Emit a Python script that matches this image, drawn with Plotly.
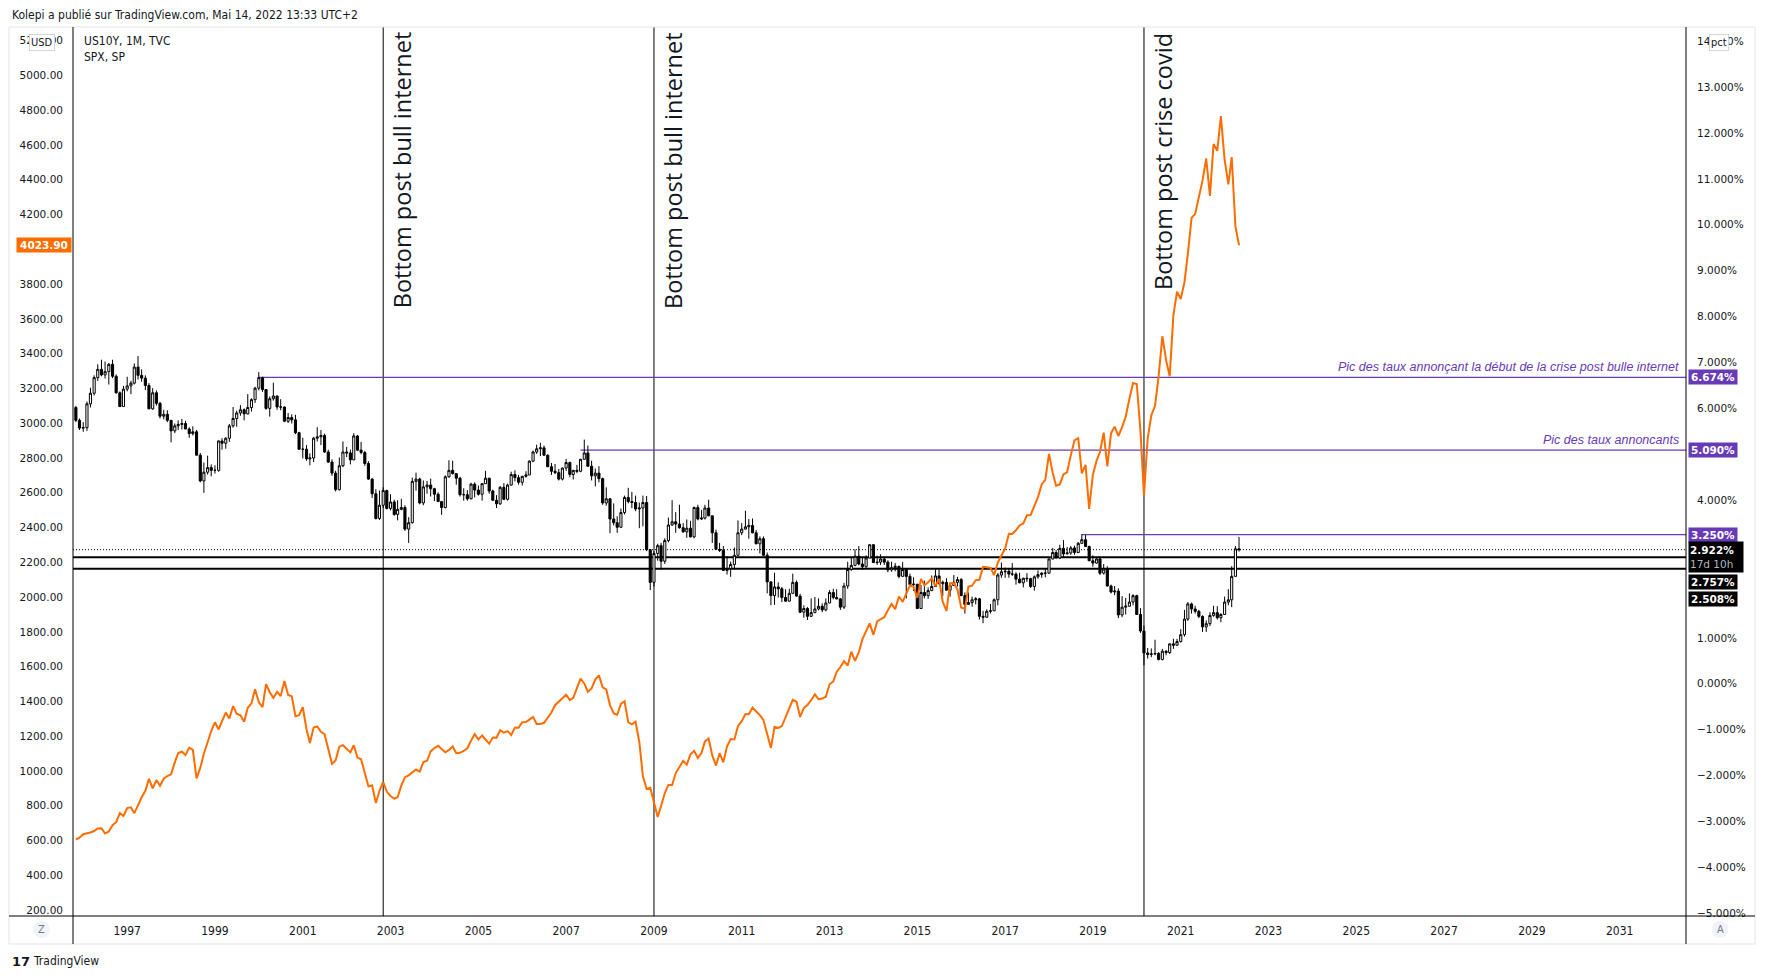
import plotly.graph_objects as go
import pandas as pd

# ---------------- DATA ----------------
months = pd.date_range("1995-11-01", "2022-05-01", freq="MS")

us10y_first_open = 6.02
us10y_close = [
    5.74, 5.57,
    5.58, 6.10, 6.33, 6.67, 6.85, 6.73, 6.80, 6.96, 6.70, 6.34, 6.04, 6.42,
    6.49, 6.55, 6.90, 6.72, 6.66, 6.50, 5.99, 6.34, 6.11, 5.83, 5.87, 5.74,
    5.51, 5.62, 5.65, 5.67, 5.55, 5.45, 5.49, 4.98, 4.42, 4.61, 4.71, 4.65,
    4.65, 5.29, 5.24, 5.35, 5.62, 5.78, 5.90, 5.97, 5.88, 6.02, 6.19, 6.44,
    6.67, 6.41, 6.00, 6.21, 6.27, 6.03, 6.03, 5.72, 5.80, 5.75, 5.47, 5.11,
    5.11, 4.90, 4.92, 5.35, 5.38, 5.41, 5.05, 4.83, 4.59, 4.23, 4.75, 5.05,
    5.03, 4.88, 5.40, 5.09, 5.04, 4.80, 4.46, 4.14, 3.60, 3.89, 4.21, 3.82,
    3.96, 3.69, 3.80, 3.84, 3.37, 3.51, 4.41, 4.46, 3.94, 4.29, 4.33, 4.25,
    4.13, 3.97, 3.84, 4.51, 4.65, 4.58, 4.48, 4.12, 4.12, 4.03, 4.35, 4.22,
    4.13, 4.36, 4.48, 4.20, 4.00, 3.92, 4.28, 4.02, 4.33, 4.56, 4.49, 4.39,
    4.52, 4.55, 4.85, 5.05, 5.12, 5.14, 4.98, 4.73, 4.63, 4.60, 4.46, 4.70,
    4.82, 4.56, 4.65, 4.63, 4.89, 5.03, 4.74, 4.53, 4.59, 4.47, 3.94, 4.03,
    3.59, 3.51, 3.41, 3.73, 4.06, 3.97, 3.95, 3.81, 3.83, 3.95, 2.92, 2.21,
    2.84, 3.01, 2.67, 3.12, 3.46, 3.53, 3.48, 3.40, 3.31, 3.39, 3.20, 3.84,
    3.59, 3.61, 3.83, 3.66, 3.29, 2.93, 2.91, 2.47, 2.51, 2.60, 2.80, 3.29,
    3.37, 3.42, 3.45, 3.29, 3.05, 3.16, 2.80, 2.22, 1.92, 2.11, 2.07, 1.88,
    1.80, 1.97, 2.21, 1.91, 1.56, 1.64, 1.47, 1.55, 1.63, 1.69, 1.61, 1.76,
    1.99, 1.88, 1.85, 1.67, 2.13, 2.49, 2.58, 2.78, 2.61, 2.55, 2.74, 3.03,
    2.64, 2.65, 2.72, 2.65, 2.48, 2.53, 2.56, 2.34, 2.49, 2.34, 2.16, 2.17,
    1.64, 1.99, 1.92, 2.03, 2.12, 2.35, 2.18, 2.21, 2.04, 2.14, 2.21, 2.27,
    1.92, 1.73, 1.77, 1.83, 1.85, 1.47, 1.45, 1.58, 1.59, 1.83, 2.37, 2.44,
    2.45, 2.39, 2.39, 2.28, 2.20, 2.30, 2.29, 2.12, 2.33, 2.38, 2.41, 2.41,
    2.72, 2.86, 2.74, 2.95, 2.83, 2.85, 2.96, 2.86, 3.06, 3.14, 2.99, 2.68,
    2.63, 2.72, 2.41, 2.50, 2.13, 2.00, 2.02, 1.50, 1.67, 1.69, 1.78, 1.92,
    1.51, 1.15, 0.67, 0.64, 0.65, 0.66, 0.53, 0.71, 0.68, 0.87, 0.84, 0.92,
    1.07, 1.41, 1.74, 1.63, 1.58, 1.47, 1.24, 1.31, 1.49, 1.55, 1.44, 1.51,
    1.78, 1.83, 2.34, 2.94, 2.922,
]
us10y_high = [
    6.05, 5.78,
    5.70, 6.15, 6.45, 6.72, 6.96, 7.06, 7.02, 6.99, 7.06, 6.74, 6.37, 6.49,
    6.69, 6.60, 6.98, 7.14, 6.85, 6.72, 6.55, 6.44, 6.39, 6.14, 5.97, 5.96,
    5.73, 5.67, 5.74, 5.77, 5.73, 5.59, 5.61, 5.53, 5.03, 4.82, 4.97, 4.78,
    4.76, 5.30, 5.35, 5.37, 5.66, 6.03, 5.95, 6.07, 6.00, 6.31, 6.22, 6.47,
    6.79, 6.69, 6.41, 6.26, 6.56, 6.28, 6.20, 6.04, 5.90, 5.87, 5.86, 5.49,
    5.36, 5.20, 5.02, 5.38, 5.59, 5.53, 5.45, 5.10, 4.89, 4.64, 4.93, 5.28,
    5.16, 5.10, 5.46, 5.42, 5.27, 5.07, 4.85, 4.48, 4.24, 4.21, 4.28, 4.23,
    4.13, 4.01, 4.00, 4.03, 3.89, 3.63, 4.49, 4.60, 4.49, 4.43, 4.42, 4.47,
    4.27, 4.17, 3.98, 4.54, 4.87, 4.86, 4.55, 4.51, 4.26, 4.22, 4.38, 4.39,
    4.32, 4.37, 4.64, 4.48, 4.23, 4.11, 4.31, 4.37, 4.36, 4.62, 4.65, 4.55,
    4.53, 4.63, 4.87, 5.08, 5.21, 5.25, 5.19, 5.00, 4.81, 4.79, 4.68, 4.71,
    4.90, 4.84, 4.66, 4.77, 4.90, 5.32, 5.19, 4.86, 4.69, 4.74, 4.49, 4.28,
    4.04, 3.93, 3.65, 3.82, 4.10, 4.27, 4.18, 4.10, 3.95, 4.10, 4.09, 2.93,
    2.89, 3.05, 3.07, 3.17, 3.62, 4.00, 3.74, 3.90, 3.50, 3.58, 3.55, 3.86,
    3.90, 3.79, 3.90, 4.01, 3.66, 3.36, 3.07, 3.00, 2.78, 2.66, 2.97, 3.56,
    3.50, 3.77, 3.59, 3.60, 3.35, 3.21, 3.21, 2.86, 2.24, 2.42, 2.21, 2.11,
    2.06, 2.07, 2.40, 2.25, 1.96, 1.71, 1.67, 1.86, 1.89, 1.86, 1.75, 1.86,
    2.04, 2.07, 2.06, 1.87, 2.20, 2.66, 2.75, 2.93, 3.00, 2.75, 2.80, 3.03,
    3.04, 2.79, 2.82, 2.78, 2.69, 2.66, 2.63, 2.56, 2.65, 2.50, 2.40, 2.32,
    2.17, 2.15, 2.25, 2.10, 2.36, 2.50, 2.48, 2.25, 2.30, 2.18, 2.37, 2.33,
    2.30, 1.99, 1.99, 1.90, 1.89, 1.87, 1.59, 1.62, 1.74, 1.86, 2.41, 2.64,
    2.53, 2.52, 2.63, 2.43, 2.42, 2.31, 2.41, 2.31, 2.36, 2.47, 2.43, 2.50,
    2.73, 2.96, 2.91, 3.03, 3.13, 2.98, 3.00, 3.01, 3.09, 3.26, 3.24, 3.01,
    2.80, 2.75, 2.76, 2.61, 2.56, 2.16, 2.13, 2.08, 1.91, 1.87, 1.97, 1.95,
    1.94, 1.65, 1.27, 0.78, 0.77, 0.96, 0.69, 0.76, 0.73, 0.88, 0.98, 0.98,
    1.19, 1.61, 1.78, 1.77, 1.70, 1.61, 1.49, 1.38, 1.56, 1.70, 1.69, 1.54,
    1.90, 2.06, 2.56, 3.00, 3.20,
]
us10y_low = [
    5.70, 5.53,
    5.49, 5.51, 6.02, 6.28, 6.60, 6.70, 6.65, 6.52, 6.66, 6.32, 6.03, 6.03,
    6.37, 6.31, 6.52, 6.63, 6.58, 6.40, 5.99, 5.97, 6.06, 5.78, 5.76, 5.70,
    5.26, 5.46, 5.53, 5.54, 5.55, 5.36, 5.41, 4.98, 4.39, 4.16, 4.56, 4.52,
    4.58, 4.62, 5.10, 5.12, 5.27, 5.58, 5.60, 5.84, 5.74, 5.87, 5.93, 6.12,
    6.39, 6.36, 5.97, 5.82, 6.17, 5.97, 5.96, 5.70, 5.68, 5.67, 5.44, 5.10,
    4.91, 4.86, 4.76, 4.83, 5.28, 5.20, 5.03, 4.81, 4.53, 4.19, 4.21, 4.72,
    4.94, 4.78, 4.87, 5.07, 5.00, 4.75, 4.44, 4.05, 3.58, 3.57, 3.83, 3.80,
    3.78, 3.66, 3.56, 3.78, 3.33, 3.07, 3.49, 4.21, 3.91, 3.89, 4.14, 4.08,
    3.98, 3.96, 3.68, 3.82, 4.49, 4.56, 4.34, 4.08, 3.99, 3.99, 4.02, 4.06,
    4.10, 3.99, 4.36, 4.14, 3.98, 3.83, 3.90, 4.00, 3.99, 4.32, 4.41, 4.34,
    4.32, 4.49, 4.55, 4.83, 5.01, 4.96, 4.97, 4.72, 4.55, 4.57, 4.43, 4.43,
    4.64, 4.50, 4.45, 4.59, 4.61, 4.89, 4.73, 4.43, 4.30, 4.39, 3.90, 3.88,
    3.28, 3.45, 3.29, 3.40, 3.69, 3.93, 3.83, 3.76, 3.39, 3.43, 2.89, 2.04,
    2.12, 2.68, 2.48, 2.61, 3.08, 3.44, 3.29, 3.38, 3.29, 3.18, 3.19, 3.17,
    3.56, 3.57, 3.58, 3.65, 3.07, 2.93, 2.87, 2.46, 2.38, 2.33, 2.49, 2.79,
    3.24, 3.37, 3.16, 3.28, 3.04, 2.84, 2.78, 1.97, 1.71, 1.72, 1.88, 1.78,
    1.79, 1.79, 1.97, 1.90, 1.54, 1.44, 1.39, 1.46, 1.54, 1.60, 1.56, 1.58,
    1.76, 1.84, 1.84, 1.61, 1.63, 2.07, 2.46, 2.56, 2.58, 2.48, 2.53, 2.74,
    2.64, 2.59, 2.59, 2.59, 2.43, 2.44, 2.45, 2.30, 2.34, 1.86, 2.16, 2.02,
    1.64, 1.64, 1.86, 1.85, 2.02, 2.11, 2.18, 1.91, 2.03, 1.90, 2.13, 2.12,
    1.91, 1.53, 1.73, 1.68, 1.73, 1.40, 1.32, 1.44, 1.53, 1.59, 1.71, 2.31,
    2.31, 2.31, 2.35, 2.16, 2.19, 2.10, 2.22, 2.09, 2.03, 2.29, 2.31, 2.32,
    2.40, 2.71, 2.73, 2.72, 2.76, 2.82, 2.81, 2.81, 2.85, 3.05, 2.99, 2.68,
    2.55, 2.62, 2.37, 2.38, 2.12, 1.97, 1.93, 1.43, 1.45, 1.51, 1.68, 1.71,
    1.51, 1.11, 0.40, 0.55, 0.58, 0.62, 0.51, 0.51, 0.62, 0.65, 0.76, 0.83,
    0.90, 1.03, 1.37, 1.53, 1.53, 1.43, 1.13, 1.13, 1.26, 1.46, 1.40, 1.34,
    1.50, 1.71, 1.67, 2.34, 2.88,
]
# monthly candle opens = previous month's close
us10y_open = [us10y_first_open] + us10y_close[:-1]

spx_close = [
    605.37, 615.93,
    636.02, 640.43, 645.50, 654.17, 669.12, 670.63, 639.95, 651.99, 687.33, 705.27, 757.02, 740.74,
    786.16, 790.82, 757.12, 801.34, 848.28, 885.14, 954.31, 899.47, 947.28, 914.62, 955.40, 970.43,
    980.28, 1049.34, 1101.75, 1111.75, 1090.82, 1133.84, 1120.67, 957.28, 1017.01, 1098.67, 1163.63, 1229.23,
    1279.64, 1238.33, 1286.37, 1335.18, 1301.84, 1372.71, 1328.72, 1320.41, 1282.71, 1362.93, 1388.91, 1469.25,
    1394.46, 1366.42, 1498.58, 1452.43, 1420.60, 1454.60, 1430.83, 1517.68, 1436.51, 1429.40, 1314.95, 1320.28,
    1366.01, 1239.94, 1160.33, 1249.46, 1255.82, 1224.42, 1211.23, 1133.58, 1040.94, 1059.78, 1139.45, 1148.08,
    1130.20, 1106.73, 1147.39, 1076.92, 1067.14, 989.82, 911.62, 916.07, 815.28, 885.76, 936.31, 879.82,
    855.70, 841.15, 848.18, 916.92, 963.59, 974.50, 990.31, 1008.01, 995.97, 1050.71, 1058.20, 1111.92,
    1131.13, 1144.94, 1126.21, 1107.30, 1120.68, 1140.84, 1101.72, 1104.24, 1114.58, 1130.20, 1173.82, 1211.92,
    1181.27, 1203.60, 1180.59, 1156.85, 1191.50, 1191.33, 1234.18, 1220.33, 1228.81, 1207.01, 1249.48, 1248.29,
    1280.08, 1280.66, 1294.83, 1310.61, 1270.09, 1270.20, 1276.66, 1303.82, 1335.85, 1377.94, 1400.63, 1418.30,
    1438.24, 1406.82, 1420.86, 1482.37, 1530.62, 1503.35, 1455.27, 1473.99, 1526.75, 1549.38, 1481.14, 1468.36,
    1378.55, 1330.63, 1322.70, 1385.59, 1400.38, 1280.00, 1267.38, 1282.83, 1166.36, 968.75, 896.24, 903.25,
    825.88, 735.09, 797.87, 872.81, 919.14, 919.32, 987.48, 1020.62, 1057.08, 1036.19, 1095.63, 1115.10,
    1073.87, 1104.49, 1169.43, 1186.69, 1089.41, 1030.71, 1101.60, 1049.33, 1141.20, 1183.26, 1180.55, 1257.64,
    1286.12, 1327.22, 1325.83, 1363.61, 1345.20, 1320.64, 1292.28, 1218.89, 1131.42, 1253.30, 1246.96, 1257.60,
    1312.41, 1365.68, 1408.47, 1397.91, 1310.33, 1362.16, 1379.32, 1406.58, 1440.67, 1412.16, 1416.18, 1426.19,
    1498.11, 1514.68, 1569.19, 1597.57, 1630.74, 1606.28, 1685.73, 1632.97, 1681.55, 1756.54, 1805.81, 1848.36,
    1782.59, 1859.45, 1872.34, 1883.95, 1923.57, 1960.23, 1930.67, 2003.37, 1972.29, 2018.05, 2067.56, 2058.90,
    1994.99, 2104.50, 2067.89, 2085.51, 2107.39, 2063.11, 2103.84, 1972.18, 1920.03, 2079.36, 2080.41, 2043.94,
    1940.24, 1932.23, 2059.74, 2065.30, 2096.95, 2098.86, 2173.60, 2170.95, 2168.27, 2126.15, 2198.81, 2238.83,
    2278.87, 2363.64, 2362.72, 2384.20, 2411.80, 2423.41, 2470.30, 2471.65, 2519.36, 2575.26, 2647.58, 2673.61,
    2823.81, 2713.83, 2640.87, 2648.05, 2705.27, 2718.37, 2816.29, 2901.52, 2913.98, 2711.74, 2760.17, 2506.85,
    2704.10, 2784.49, 2834.40, 2945.83, 2752.06, 2941.76, 2980.38, 2926.46, 2976.74, 3037.56, 3140.98, 3230.78,
    3225.52, 2954.22, 2584.59, 2912.43, 3044.31, 3100.29, 3271.12, 3500.31, 3363.00, 3269.96, 3621.63, 3756.07,
    3714.24, 3811.15, 3972.89, 4181.17, 4204.11, 4297.50, 4395.26, 4522.68, 4307.54, 4605.38, 4567.00, 4766.18,
    4515.55, 4373.94, 4530.41, 4131.93, 4023.90,
]

year_ticks = list(range(1997, 2032, 2))
usd_ticks = list(range(200, 5201, 200))
pct_ticks = list(range(-5, 15))
# scale ticks that are hidden under price labels in the reference
usd_hidden = [4000]
pct_hidden = [5, 3, 2]

event_dates = ["2002-11-01", "2009-01-01", "2020-03-01"]
event_texts = ["Bottom post bull internet", "Bottom post bull internet", "Bottom post crise covid"]
event_text_center_px = [170, 170, 161]

peak_levels = [6.674, 5.090, 3.250]
peak_starts = ["2000-01-01", "2007-05-01", "2018-10-01"]
peak_texts = ["Pic des taux annonçant la début de la crise post bulle internet",
              "Pic des taux annoncants", ""]
support_levels = [2.757, 2.508]
last_yield = 2.922
last_spx = 4023.90

# ---------------- LAYOUT HELPERS ----------------
W, H = 1766, 979
L, R, T, B = 73, 1686, 27, 916
X_RANGE = ["1995-10-08", "2032-07-06"]
PCT_RANGE = [-5.059, 14.309]
USD_RANGE = [165.4, 5279.0]

def px(x):
    return (x - L) / (R - L)

def py(y):
    return (B - y) / (B - T)

TXT = "#131722"
PURPLE = "#673AB7"
ORANGE = "#FF6D00"
AXFONT = "DejaVu Sans, Verdana, sans-serif"
NARROW = "DejaVu Sans Condensed, Liberation Sans Narrow, Roboto Condensed, Liberation Sans, sans-serif"

fig = go.Figure()

fig.add_trace(go.Candlestick(
    x=months, open=us10y_open, high=us10y_high, low=us10y_low, close=us10y_close,
    yaxis="y",
    increasing=dict(line=dict(color="#000000", width=1), fillcolor="#FFFFFF"),
    decreasing=dict(line=dict(color="#000000", width=1), fillcolor="#000000"),
    whiskerwidth=0, hoverinfo="skip", name="US10Y",
))
fig.add_trace(go.Scatter(
    x=months, y=spx_close, yaxis="y2", mode="lines",
    line=dict(color=ORANGE, width=2), hoverinfo="skip", name="SPX",
))

shapes = []
annotations = []

# event vertical lines + texts
for d, t, cy in zip(event_dates, event_texts, event_text_center_px):
    shapes.append(dict(type="line", xref="x", yref="paper", x0=d, x1=d, y0=0, y1=1,
                       line=dict(color="#000000", width=1), layer="below"))
    annotations.append(dict(x=d, xref="x", xshift=19, y=py(cy), yref="paper",
                            text=t, textangle=-90, showarrow=False,
                            xanchor="center", yanchor="middle",
                            font=dict(family="Open Sans, Noto Sans, sans-serif", size=23.5, color=TXT)))

# purple peak lines + texts + labels
for lv, st, tx in zip(peak_levels, peak_starts, peak_texts):
    shapes.append(dict(type="line", xref="x", yref="y", x0=st, x1=X_RANGE[1], y0=lv, y1=lv,
                       line=dict(color=PURPLE, width=1.3), layer="below"))
    if tx:
        annotations.append(dict(x=px(1681), xref="paper", y=lv, yref="y", yshift=10,
                                text="<i>" + tx + "</i>", showarrow=False,
                                xanchor="right", yanchor="middle",
                                font=dict(family="Liberation Sans, Arial, sans-serif", size=12.5, color=PURPLE)))
    annotations.append(dict(x=px(1688), xref="paper", y=lv, yref="y",
                            text="<b>%.3f%%</b>" % lv, showarrow=False,
                            xanchor="left", yanchor="middle", bgcolor=PURPLE,
                            width=46, height=12, borderpad=1,
                            font=dict(family=AXFONT, size=10.5, color="#FFFFFF")))

# support black lines
for lv in support_levels:
    shapes.append(dict(type="line", xref="paper", yref="y", x0=0, x1=1, y0=lv, y1=lv,
                       line=dict(color="#000000", width=2), layer="below"))
# last price dotted line
shapes.append(dict(type="line", xref="paper", yref="y", x0=0, x1=1, y0=last_yield, y1=last_yield,
                   line=dict(color="#000000", width=1, dash="1px,2px"), layer="below"))

# black labels on right scale
annotations.append(dict(x=px(1688), xref="paper", y=last_yield, yref="y", yshift=-7,
                        text="<b>%.3f%%</b><br><span style='color:#B2B5BE'>17d 10h</span>" % last_yield,
                        showarrow=False, xanchor="left", yanchor="middle", align="left",
                        bgcolor="#000000", width=52, height=28, borderpad=1,
                        font=dict(family=AXFONT, size=10.5, color="#FFFFFF")))
for lv, shift in zip(support_levels, [-25, -30.5]):
    annotations.append(dict(x=px(1688), xref="paper", y=lv, yref="y", yshift=shift,
                            text="<b>%.3f%%</b>" % lv, showarrow=False,
                            xanchor="left", yanchor="middle", bgcolor="#000000",
                            width=46, height=12, borderpad=1,
                            font=dict(family=AXFONT, size=10.5, color="#FFFFFF")))

# orange SPX label on left scale
annotations.append(dict(x=px(72), xref="paper", y=last_spx, yref="y2",
                        text="<b>%.2f</b>" % last_spx, showarrow=False,
                        xanchor="right", yanchor="middle", bgcolor=ORANGE,
                        width=52, height=12, borderpad=1,
                        font=dict(family=AXFONT, size=10.5, color="#FFFFFF")))

# frame: outer panel and scale separators
shapes.append(dict(type="rect", xref="paper", yref="paper", x0=px(9), x1=px(1755), y0=py(944), y1=py(27),
                   line=dict(color="#E0E3EB", width=1), layer="above"))
shapes.append(dict(type="line", xref="paper", yref="paper", x0=px(L), x1=px(L), y0=py(944), y1=py(T),
                   line=dict(color="#000000", width=1), layer="above"))
shapes.append(dict(type="line", xref="paper", yref="paper", x0=px(R), x1=px(R), y0=py(944), y1=py(T),
                   line=dict(color="#000000", width=1), layer="above"))
shapes.append(dict(type="line", xref="paper", yref="paper", x0=px(9), x1=px(1755), y0=py(B), y1=py(B),
                   line=dict(color="#000000", width=1), layer="above"))

# Z / A buttons
for cx, letter in [(41.5, "Z"), (1720, "A")]:
    shapes.append(dict(type="circle", xref="paper", yref="paper",
                       x0=px(cx - 8.5), x1=px(cx + 8.5), y0=py(938), y1=py(921),
                       fillcolor="#F0F3FA", line=dict(width=0), layer="above"))
    annotations.append(dict(x=px(cx), y=py(929.5), xref="paper", yref="paper", text=letter,
                            showarrow=False, xanchor="center", yanchor="middle",
                            font=dict(family=NARROW, size=11, color="#787B86")))

# scale unit boxes (sit over the top tick labels, as in the reference)
annotations.append(dict(x=px(42), y=py(42), xref="paper", yref="paper", text="USD", showarrow=False,
                        xanchor="center", yanchor="middle", bgcolor="#FFFFFF", bordercolor="#D1D4DC",
                        borderwidth=1, borderpad=1,
                        font=dict(family=NARROW, size=11, color=TXT)))
annotations.append(dict(x=px(1719), y=py(42), xref="paper", yref="paper", text="pct", showarrow=False,
                        xanchor="center", yanchor="middle", bgcolor="#FFFFFF", bordercolor="#D1D4DC",
                        borderwidth=1, borderpad=1,
                        font=dict(family=NARROW, size=11, color=TXT)))

# legend texts
annotations.append(dict(x=px(82), y=py(41.5), xref="paper", yref="paper", text="US10Y, 1M, TVC",
                        showarrow=False, xanchor="left", yanchor="middle",
                        font=dict(family=NARROW, size=12, color=TXT)))
annotations.append(dict(x=px(82), y=py(57.5), xref="paper", yref="paper", text="SPX, SP",
                        showarrow=False, xanchor="left", yanchor="middle",
                        font=dict(family=NARROW, size=12, color=TXT)))

# header & footer
annotations.append(dict(x=px(10), y=py(14.5), xref="paper", yref="paper",
                        text="Kolepi a publié sur TradingView.com, Mai 14, 2022 13:33 UTC+2",
                        showarrow=False, xanchor="left", yanchor="middle",
                        font=dict(family=NARROW, size=12, color=TXT)))
annotations.append(dict(x=px(10), y=py(961), xref="paper", yref="paper",
                        text="<b>17</b>", showarrow=False, xanchor="left", yanchor="middle",
                        font=dict(family="DejaVu Sans, sans-serif", size=13, color=TXT)))
annotations.append(dict(x=px(31), y=py(961), xref="paper", yref="paper",
                        text="TradingView", showarrow=False, xanchor="left", yanchor="middle",
                        font=dict(family=NARROW, size=12, color=TXT)))

usd_text = ["" if v in usd_hidden else "%.2f" % v for v in usd_ticks]
pct_text = ["" if v in pct_hidden else ("%.3f%%" % v).replace("-", "\u2212") for v in pct_ticks]

fig.update_layout(
    width=W, height=H,
    margin=dict(l=L, r=W - R, t=T, b=H - B, pad=0),
    paper_bgcolor="#FFFFFF", plot_bgcolor="#FFFFFF",
    showlegend=False, hovermode=False, boxgap=0.1,
    xaxis=dict(type="date", range=X_RANGE, showgrid=False, zeroline=False, showline=False,
               tickvals=["%d-01-01" % y for y in year_ticks], ticktext=[str(y) for y in year_ticks],
               ticks="", ticklabelstandoff=6,
               tickfont=dict(family=NARROW, size=12, color=TXT),
               rangeslider=dict(visible=False), fixedrange=True),
    yaxis=dict(range=PCT_RANGE, side="right", showgrid=False, zeroline=False, showline=False,
               tickvals=pct_ticks, ticktext=pct_text,
               ticks="", ticklabelstandoff=10,
               tickfont=dict(family=AXFONT, size=10.5, color=TXT)),
    yaxis2=dict(range=USD_RANGE, side="left", overlaying="y", showgrid=False, zeroline=False,
                showline=False, tickvals=usd_ticks, ticktext=usd_text,
                ticks="", ticklabelstandoff=9,
                tickfont=dict(family=AXFONT, size=10.5, color=TXT)),
    shapes=shapes, annotations=annotations,
)

fig.write_html("out.html", config={"displayModeBar": False},
               post_script="document.body.style.margin='0';document.body.style.overflow='hidden';")
